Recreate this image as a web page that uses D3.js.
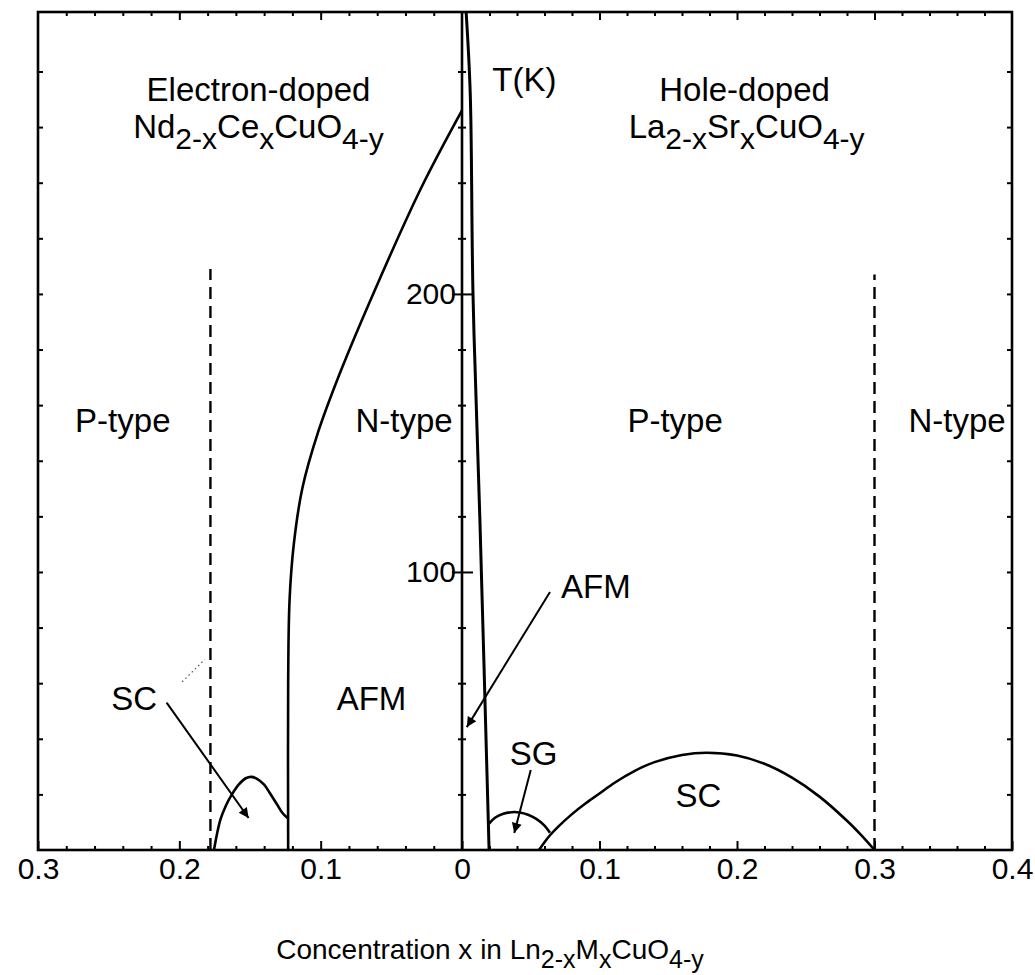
<!DOCTYPE html>
<html><head><meta charset="utf-8">
<script src="https://cdn.jsdelivr.net/npm/d3@7"></script>
<style>
body{margin:0;background:#fff}
svg{display:block}
text{font-family:"Liberation Sans",Arial,Helvetica,sans-serif;fill:#000}
</style>
</head><body>
<svg id="chart" width="1035" height="975"></svg>
<script>
// ---------------- data ----------------
// electron-doped side (Nd2-xCexCuO4-y): x measured leftwards from 0
const electronTickValues = [0.3, 0.2, 0.1, 0];
const holeTickValues = [0.1, 0.2, 0.3, 0.4];
const tempTickValues = [100, 200];

// [x, T(K)]
const electronAFM = [[0,266],[0.029,238],[0.062,201],[0.086,172],[0.102,150],[0.113,130],[0.119,110],[0.122,90],[0.123,60],[0.123,0]];
const electronSC = [[0.1755,0],[0.171,10.8],[0.167,16],[0.163,19.8],[0.158,23.5],[0.153,25.8],[0.149,26.3],[0.145,25.6],[0.140,23.5],[0.136,20.5],[0.131,16.5],[0.127,13.3],[0.1235,11.5]];
const electronPN = [[0.178,0],[0.178,209]];

// hole-doped side (La2-xSrxCuO4-y)
const holeAFM = [[0.003,301.4],[0.006,272],[0.008,200],[0.013,119],[0.0197,0]];
const holeSG = [[0.0197,9.5],[0.024,11.6],[0.030,13],[0.036,13.6],[0.042,13.5],[0.048,12.7],[0.054,11.2],[0.060,8.8],[0.064,6.2]];
const holeSC = [[0.056,0],[0.060,2.8],[0.064,5.3],[0.070,8.4],[0.080,12.9],[0.090,16.8],[0.100,20.3],[0.111,24.2],[0.125,28.3],[0.140,31.6],[0.160,34.2],[0.178,35],[0.200,34],[0.220,31],[0.240,26],[0.260,19.2],[0.280,10.5],[0.290,5.5],[0.300,0]];
const holePN = [[0.3,0],[0.3,207]];

// text labels: side, x, T, anchor, parts
const labels = [
  {side:"e", x:0.144, T:269.4, anchor:"middle", parts:[["Electron-doped"]]},
  {side:"e", x:0.144, T:256.1, anchor:"middle", parts:[["Nd"],["2-x",1],["Ce"],["x",1],["CuO"],["4-y",1]]},
  {side:"h", x:0.2055, T:269.4, anchor:"middle", parts:[["Hole-doped"]]},
  {side:"h", x:0.207, T:256.1, anchor:"middle", parts:[["La"],["2-x",1],["Sr"],["x",1],["CuO"],["4-y",1]]},
  {side:"h", x:0.022, T:273, anchor:"start", parts:[["T(K)"]]},
  {side:"e", x:0.240, T:150.4, anchor:"middle", parts:[["P-type"]]},
  {side:"e", x:0.041, T:150.4, anchor:"middle", parts:[["N-type"]]},
  {side:"h", x:0.155, T:150.4, anchor:"middle", parts:[["P-type"]]},
  {side:"h", x:0.360, T:150.4, anchor:"middle", parts:[["N-type"]]},
  {side:"e", x:0.232, T:50.4, anchor:"middle", parts:[["SC"]]},
  {side:"e", x:0.064, T:50.4, anchor:"middle", parts:[["AFM"]]},
  {side:"h", x:0.072, T:90.6, anchor:"start", parts:[["AFM"]]},
  {side:"h", x:0.052, T:30.6, anchor:"middle", parts:[["SG"]]},
  {side:"h", x:0.172, T:15.5, anchor:"middle", parts:[["SC"]]}
];

// arrows: side, from [x,T], to [x,T]
const arrows = [
  {side:"e", from:[0.209,53], to:[0.151,11.5]},
  {side:"h", from:[0.064,92.8], to:[0.0035,44.2]},
  {side:"h", from:[0.050,28.8], to:[0.038,6.1]}
];
// faint dotted stroke near the left "SC" label
const dottedMark = [[0.198,60.5],[0.182,68.5]];

const axisTitle = [["Concentration x in Ln"],["2-x",1],["M"],["x",1],["CuO"],["4-y",1]];

// ---------------- layout ----------------
const svg = d3.select("#chart");
const L = 38, Z = 462, R = 1012, TOP = 12, BOT = 850;
const xE = d3.scaleLinear().domain([0.3, 0]).range([L, Z]);
const xH = d3.scaleLinear().domain([0, 0.4]).range([Z, R]);
const y = d3.scaleLinear().domain([0, 301.4]).range([BOT, TOP]);
const sx = s => s === "e" ? xE : xH;

const LW = 2.6;

// arrow marker
svg.append("defs").append("marker")
  .attr("id","ah").attr("viewBox","0 0 10 10").attr("refX",10).attr("refY",5)
  .attr("markerWidth",15).attr("markerHeight",10).attr("markerUnits","userSpaceOnUse")
  .attr("orient","auto")
  .append("path").attr("d","M0,0 L10,5 L0,10 z").attr("fill","#000");

// frame
svg.append("rect").attr("x",L).attr("y",TOP).attr("width",R-L).attr("height",BOT-TOP)
  .attr("fill","none").attr("stroke","#000").attr("stroke-width",LW);

// minor tick values
const eMinor = d3.range(1, 15).map(i => +(i*0.02).toFixed(2)).filter(v => Math.abs(v*10 - Math.round(v*10)) > 1e-6);
const hMinor = d3.range(1, 20).map(i => +(i*0.02).toFixed(2)).filter(v => Math.abs(v*10 - Math.round(v*10)) > 1e-6);
const eMajor = [0.1, 0.2];
const hMajor = [0.1, 0.2, 0.3];
const tMinor = d3.range(1, 16).map(i => i*20).filter(v => v % 100 !== 0);

function styleAxis(g){
  g.select(".domain").remove();
  g.selectAll("line").attr("stroke","#000").attr("stroke-width",2);
  g.selectAll("text").attr("font-size",30).attr("font-family","Liberation Sans, Arial, sans-serif").attr("fill","#000");
}

// bottom axis: labels + major ticks (inward)
svg.append("g").attr("transform",`translate(0,${BOT})`)
  .call(d3.axisBottom(xE).tickValues(electronTickValues).tickSize(-9).tickPadding(8).tickFormat(d3.format("")))
  .call(styleAxis);
svg.append("g").attr("transform",`translate(0,${BOT})`)
  .call(d3.axisBottom(xH).tickValues(holeTickValues).tickSize(-9).tickPadding(8).tickFormat(d3.format("")))
  .call(styleAxis);
svg.append("g").attr("transform",`translate(0,${BOT})`)
  .call(d3.axisBottom(xE).tickValues(eMinor).tickSize(-4).tickFormat(""))
  .call(styleAxis);
svg.append("g").attr("transform",`translate(0,${BOT})`)
  .call(d3.axisBottom(xH).tickValues(hMinor).tickSize(-4).tickFormat(""))
  .call(styleAxis);
// top axis ticks (inward)
svg.append("g").attr("transform",`translate(0,${TOP})`)
  .call(d3.axisTop(xE).tickValues(eMajor).tickSize(-8).tickFormat(""))
  .call(styleAxis);
svg.append("g").attr("transform",`translate(0,${TOP})`)
  .call(d3.axisTop(xH).tickValues(hMajor).tickSize(-8).tickFormat(""))
  .call(styleAxis);
svg.append("g").attr("transform",`translate(0,${TOP})`)
  .call(d3.axisTop(xE).tickValues(eMinor).tickSize(-4).tickFormat(""))
  .call(styleAxis);
svg.append("g").attr("transform",`translate(0,${TOP})`)
  .call(d3.axisTop(xH).tickValues(hMinor).tickSize(-4).tickFormat(""))
  .call(styleAxis);
// side frame ticks (inward)
svg.append("g").attr("transform",`translate(${L},0)`)
  .call(d3.axisLeft(y).tickValues(tMinor.concat(tempTickValues)).tickSize(-5).tickFormat(""))
  .call(styleAxis);
svg.append("g").attr("transform",`translate(${R},0)`)
  .call(d3.axisRight(y).tickValues(tMinor.concat(tempTickValues)).tickSize(-5).tickFormat(""))
  .call(styleAxis);

// central temperature axis
svg.append("line").attr("x1",Z).attr("x2",Z).attr("y1",TOP).attr("y2",BOT)
  .attr("stroke","#000").attr("stroke-width",LW);
// major ticks crossing the axis, with labels on the left
svg.append("g").attr("transform",`translate(${Z+11},0)`)
  .call(d3.axisLeft(y).tickValues(tempTickValues).tickSize(21).tickPadding(-4).tickFormat(d3.format("d")))
  .call(styleAxis);
// minor ticks: small crosses
svg.append("g").attr("transform",`translate(${Z+4},0)`)
  .call(d3.axisLeft(y).tickValues(tMinor).tickSize(8).tickFormat(""))
  .call(styleAxis);

// curves
const lineE = d3.line().x(d => xE(d[0])).y(d => y(d[1])).curve(d3.curveCatmullRom.alpha(0.5));
const lineH = d3.line().x(d => xH(d[0])).y(d => y(d[1])).curve(d3.curveCatmullRom.alpha(0.5));
const straightE = d3.line().x(d => xE(d[0])).y(d => y(d[1]));
const straightH = d3.line().x(d => xH(d[0])).y(d => y(d[1]));

const curves = svg.append("g").attr("fill","none").attr("stroke","#000").attr("stroke-width",LW);
curves.append("path").attr("d", lineE(electronAFM));
curves.append("path").attr("d", lineE(electronSC));
curves.append("path").attr("d", lineH(holeAFM)).attr("stroke-width",3);
curves.append("path").attr("d", lineH(holeSG));
curves.append("path").attr("d", lineH(holeSC));
curves.append("path").attr("d", straightE(electronPN)).attr("stroke-dasharray","12,7").attr("stroke-width",2.4);
curves.append("path").attr("d", straightH(holePN)).attr("stroke-dasharray","12,7").attr("stroke-width",2.4);
curves.append("path").attr("d", straightE(dottedMark)).attr("stroke-width",1.2).attr("stroke-dasharray","1.5,3").attr("stroke","#555");

// arrows
svg.append("g").selectAll("line").data(arrows).join("line")
  .attr("x1", d => sx(d.side)(d.from[0])).attr("y1", d => y(d.from[1]))
  .attr("x2", d => sx(d.side)(d.to[0])).attr("y2", d => y(d.to[1]))
  .attr("stroke","#000").attr("stroke-width",2).attr("marker-end","url(#ah)");

// text with subscripts
function richText(sel, parts, size){
  const sub = Math.round(size*0.9), shift = Math.round(size*0.32);
  let down = false;
  parts.forEach(p => {
    const isSub = !!p[1];
    const ts = sel.append("tspan").text(p[0]).attr("font-size", isSub ? sub : size);
    if (isSub && !down){ ts.attr("dy", shift); down = true; }
    else if (!isSub && down){ ts.attr("dy", -shift); down = false; }
  });
}

labels.forEach(l => {
  const t = svg.append("text")
    .attr("x", sx(l.side)(l.x)).attr("y", y(l.T))
    .attr("text-anchor", l.anchor).attr("font-size",33);
  richText(t, l.parts, 33);
});

const title = svg.append("text").attr("x", (L+R)/2 - 35).attr("y", 959)
  .attr("text-anchor","middle").attr("font-size",28);
richText(title, axisTitle, 28);
</script>
</body></html>
